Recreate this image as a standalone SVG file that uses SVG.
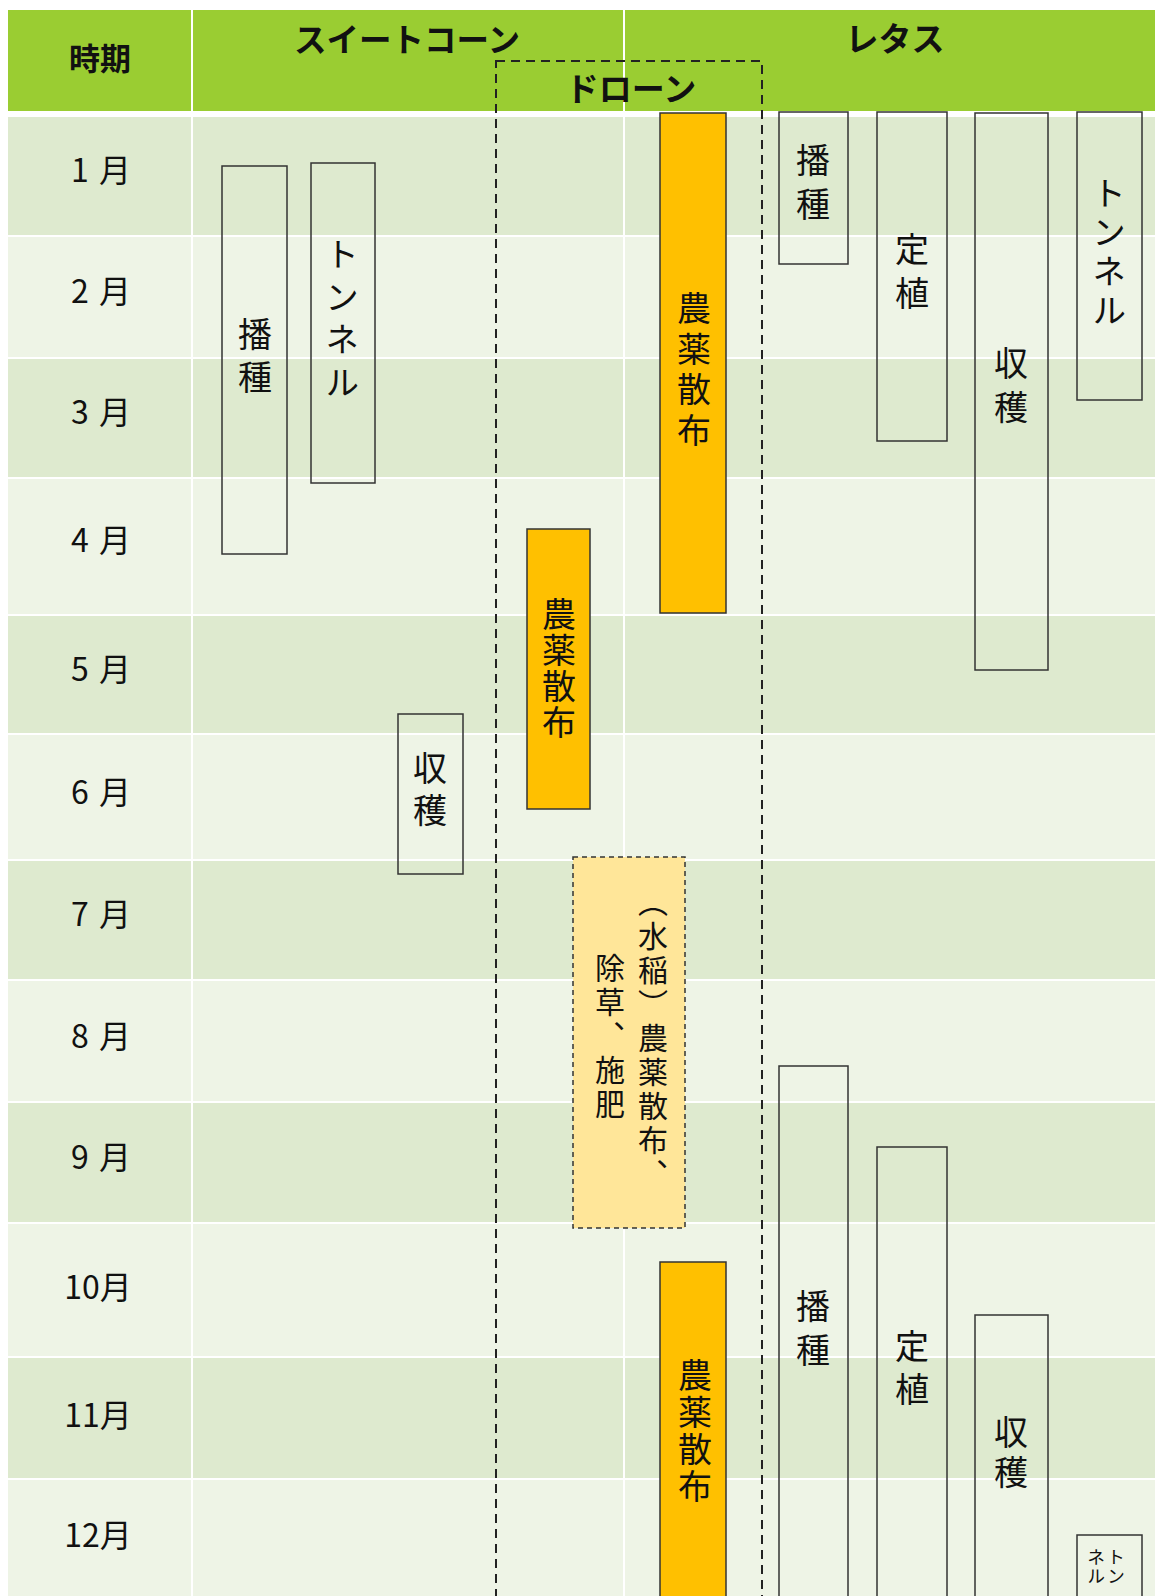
<svg xmlns="http://www.w3.org/2000/svg" width="1155" height="1596" viewBox="0 0 1155 1596">
<defs>
<style>
.hdr{fill:#9ACD32}
.rd{fill:#DEEACF}
.rl{fill:#EEF4E6}
.sep{stroke:#ffffff;stroke-width:2}
.t{font-family:"Noto Sans CJK JP","Noto Sans CJK SC",sans-serif;fill:#111111}
.h{font-weight:bold;font-size:33px;text-anchor:middle;dominant-baseline:central}
.m{font-size:32px;text-anchor:middle}
.v{writing-mode:vertical-rl;font-size:34px}
.box{fill:none;stroke:#333333;stroke-width:1.5}
.orange{fill:#FFC000;stroke:#333333;stroke-width:1.5}
.yel{fill:#FFE699;stroke:#333333;stroke-width:1.5;stroke-dasharray:5 4}
.drone{fill:none;stroke:#222222;stroke-width:2;stroke-dasharray:9 6}
</style>
</defs>
<rect x="0" y="0" width="1155" height="1596" fill="#ffffff"/>
<g id="table">
<rect class="hdr" x="8" y="10" width="1147" height="101"/>
<rect class="rd" x="8" y="117" width="1147" height="118"/>
<rect class="rl" x="8" y="237" width="1147" height="120"/>
<rect class="rd" x="8" y="359" width="1147" height="118"/>
<rect class="rl" x="8" y="479" width="1147" height="135"/>
<rect class="rd" x="8" y="616" width="1147" height="117"/>
<rect class="rl" x="8" y="735" width="1147" height="124"/>
<rect class="rd" x="8" y="861" width="1147" height="118"/>
<rect class="rl" x="8" y="981" width="1147" height="120"/>
<rect class="rd" x="8" y="1103" width="1147" height="119"/>
<rect class="rl" x="8" y="1224" width="1147" height="132"/>
<rect class="rd" x="8" y="1358" width="1147" height="120"/>
<rect class="rl" x="8" y="1480" width="1147" height="116"/>
<line class="sep" x1="192" y1="10" x2="192" y2="1596"/>
<line class="sep" x1="624" y1="10" x2="624" y2="1596"/>
<text class="t h" x="100" y="56" style="font-size:31px">時期</text>
<text class="t h" x="407" y="37" style="font-size:32.5px">スイートコーン</text>
<text class="t h" x="895" y="37">レタス</text>
<text class="t h" x="631" y="87">ドローン</text>
<text class="t m" x="101" y="182">1<tspan dx="10">月</tspan></text>
<text class="t m" x="101" y="303">2<tspan dx="10">月</tspan></text>
<text class="t m" x="101" y="424">3<tspan dx="10">月</tspan></text>
<text class="t m" x="101" y="552">4<tspan dx="10">月</tspan></text>
<text class="t m" x="101" y="681">5<tspan dx="10">月</tspan></text>
<text class="t m" x="101" y="804">6<tspan dx="10">月</tspan></text>
<text class="t m" x="101" y="926">7<tspan dx="10">月</tspan></text>
<text class="t m" x="101" y="1048">8<tspan dx="10">月</tspan></text>
<text class="t m" x="101" y="1169">9<tspan dx="10">月</tspan></text>
<text class="t m" x="98" y="1299">10月</text>
<text class="t m" x="98" y="1427">11月</text>
<text class="t m" x="98" y="1547">12月</text>
</g>
<g id="sc-sowing"><rect class="box" x="222" y="166" width="65" height="388"/><text class="t v" x="255" y="317" style="letter-spacing:9px">播種</text></g>
<g id="sc-tunnel"><rect class="box" x="311" y="163" width="64" height="320"/><text class="t v" x="342" y="237" style="letter-spacing:8.7px">トンネル</text></g>
<g id="sc-harvest"><rect class="box" x="398" y="714" width="65" height="160"/><text class="t v" x="430" y="751" style="letter-spacing:8px">収穫</text></g>
<g id="dr-spray1"><rect class="orange" x="660" y="113" width="66" height="500"/><text class="t v" x="694" y="291" style="letter-spacing:6.7px">農薬散布</text></g>
<g id="dr-spray2"><rect class="orange" x="527" y="529" width="63" height="280"/><text class="t v" x="559" y="597" style="letter-spacing:2px">農薬散布</text></g>
<g id="dr-rice"><rect class="yel" x="573" y="857" width="112" height="371"/><text class="t v" x="653" y="887" style="font-size:30px;letter-spacing:4px">（水稲）農薬散布、</text><text class="t v" x="610" y="953" style="font-size:30px;letter-spacing:4px">除草、施肥</text></g>
<g id="dr-spray3"><rect class="orange" x="660" y="1262" width="66" height="340"/><text class="t v" x="695" y="1358" style="letter-spacing:3px">農薬散布</text></g>
<g id="le-sowing1"><rect class="box" x="779" y="112" width="69" height="152"/><text class="t v" x="813" y="143" style="letter-spacing:10px">播種</text></g>
<g id="le-planting1"><rect class="box" x="877" y="112" width="70" height="329"/><text class="t v" x="912" y="232" style="letter-spacing:10px">定植</text></g>
<g id="le-harvest1"><rect class="box" x="975" y="113" width="73" height="557"/><text class="t v" x="1011" y="346" style="letter-spacing:10px">収穫</text></g>
<g id="le-tunnel1"><rect class="box" x="1077" y="112" width="65" height="288"/><text class="t v" x="1109" y="176" style="letter-spacing:5px">トンネル</text></g>
<g id="le-sowing2"><rect class="box" x="779" y="1066" width="69" height="540"/><text class="t v" x="813" y="1289" style="letter-spacing:10px">播種</text></g>
<g id="le-planting2"><rect class="box" x="877" y="1147" width="70" height="460"/><text class="t v" x="912" y="1329" style="letter-spacing:9px">定植</text></g>
<g id="le-harvest2"><rect class="box" x="975" y="1315" width="73" height="290"/><text class="t v" x="1011" y="1415" style="letter-spacing:6px">収穫</text></g>
<g id="le-tunnel2"><rect class="box" x="1077" y="1535" width="65" height="70"/><text class="t v" x="1116" y="1548" style="font-size:18px;letter-spacing:1.5px">トン</text><text class="t v" x="1096" y="1548" style="font-size:18px;letter-spacing:1.5px">ネル</text></g>
<g id="drone-frame"><rect class="drone" x="496" y="61" width="266" height="1560"/></g>
</svg>
